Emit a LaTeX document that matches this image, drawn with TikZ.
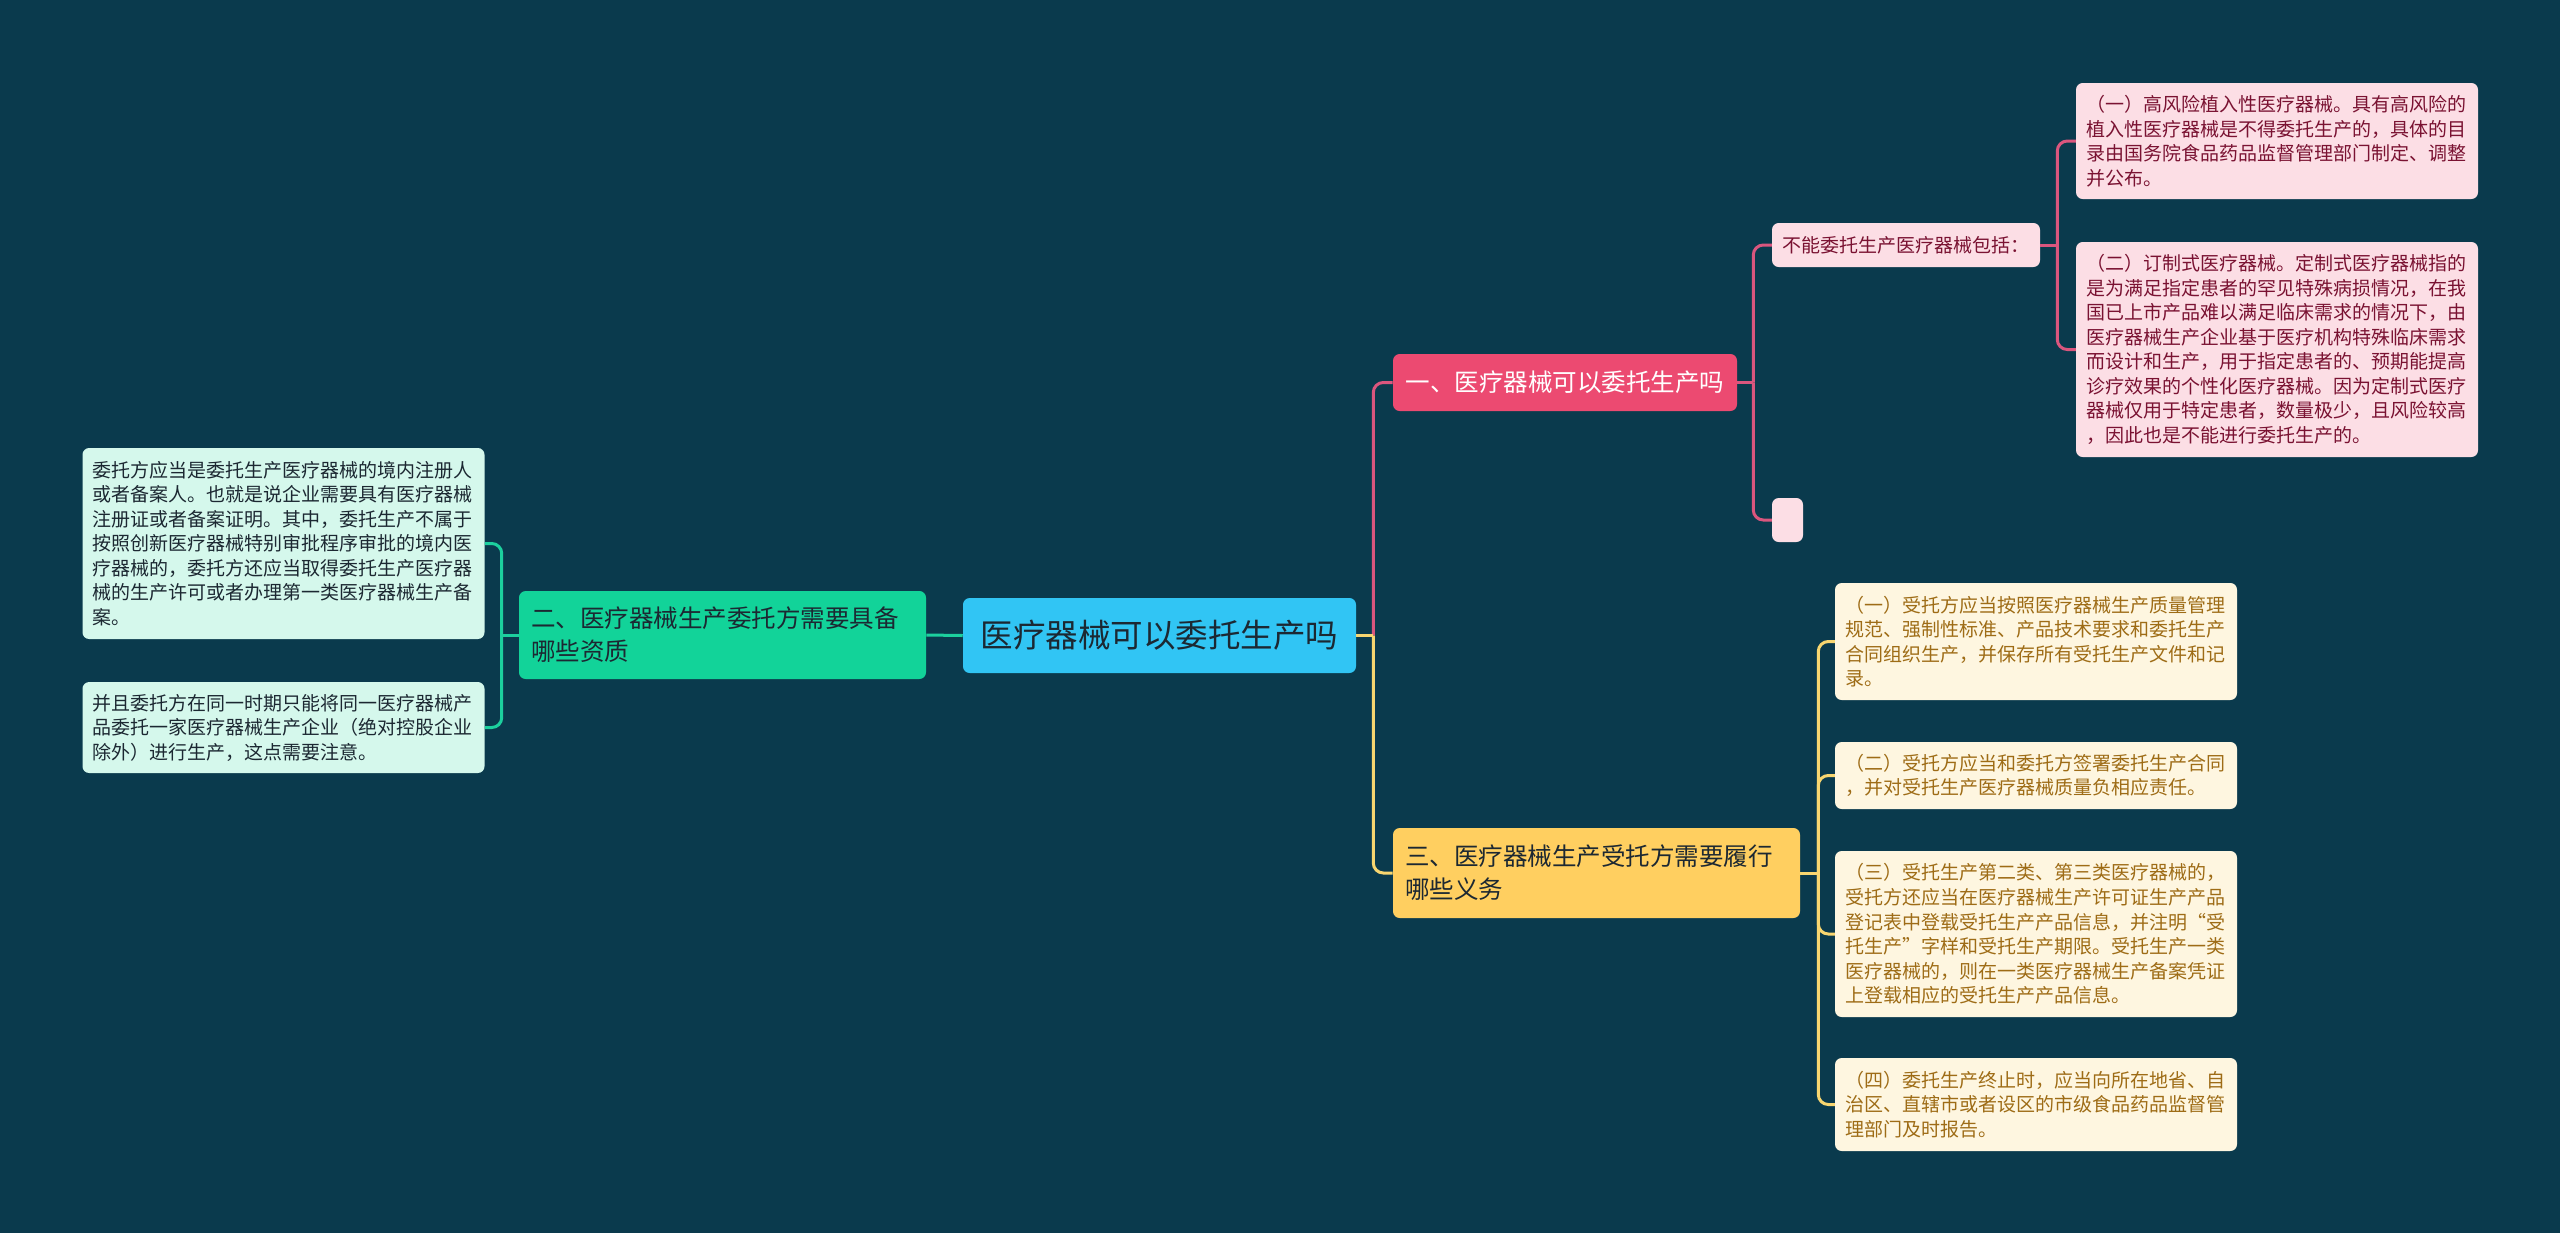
\documentclass[tikz,border=0pt]{standalone}
\usepackage{fontspec}
\newfontfamily\cjk{Noto Sans CJK SC}
\usetikzlibrary{positioning}
\definecolor{bgTeal}{RGB}{10,58,77}
\definecolor{rootBlue}{RGB}{49,197,244}
\definecolor{mintGreen}{RGB}{18,211,153}
\definecolor{mintLight}{RGB}{213,248,236}
\definecolor{roseRed}{RGB}{236,74,113}
\definecolor{roseLight}{RGB}{252,222,229}
\definecolor{roseText}{RGB}{122,18,50}
\definecolor{sunYellow}{RGB}{255,207,96}
\definecolor{sunLight}{RGB}{254,246,224}
\definecolor{sunText}{RGB}{158,108,22}
\definecolor{inkDark}{RGB}{28,40,50}
\definecolor{greenLink}{RGB}{28,208,158}
\definecolor{roseLink}{RGB}{218,86,126}
\definecolor{sunLink}{RGB}{248,214,112}

\begin{document}
\begin{tikzpicture}[x=0.75pt, y=-0.75pt,
		box/.style={rounded corners=5pt, inner ysep=0pt},
		leaf/.style={box, inner xsep=7.5pt, text width=286.5pt, align=left,
			font=\cjk\fontsize{14.25}{18.4}\selectfont},
		branch/.style={box, inner xsep=9pt, text width=287.25pt, align=left,
			font=\cjk\fontsize{18.4}{24.75}\selectfont, text=inkDark},
		link/.style={line width=2.25pt, rounded corners=7.5pt}]
	\fill[bgTeal] (0,0) rectangle (2560,1233);
	\useasboundingbox (0,0) rectangle (2560,1233);

	% centre
	\node[box, fill=rootBlue, minimum width=294.75pt, minimum height=56.25pt, text=inkDark,
		font=\cjk\fontsize{24.4}{30}\selectfont] (root) at (1159.5,635.5) {医疗器械可以委托生产吗};

	% left branch
	\node[branch, fill=mintGreen, minimum height=66pt] (qual) at (722.5,635)
		{二、医疗器械生产委托方需要具备\\哪些资质};
	\node[leaf, fill=mintLight, text=inkDark, minimum height=143.25pt] (qualA) at (283.5,543.5)
		{委托方应当是委托生产医疗器械的境内注册人\\或者备案人。也就是说企业需要具有医疗器械\\注册证或者备案证明。其中，委托生产不属于\\按照创新医疗器械特别审批程序审批的境内医\\疗器械的，委托方还应当取得委托生产医疗器\\械的生产许可或者办理第一类医疗器械生产备\\案。};
	\node[leaf, fill=mintLight, text=inkDark, minimum height=68.25pt] (qualB) at (283.5,727.5)
		{并且委托方在同一时期只能将同一医疗器械产\\品委托一家医疗器械生产企业（绝对控股企业\\除外）进行生产，这点需要注意。};

	% upper right branch
	\node[box, fill=roseRed, text=white, inner xsep=7.5pt, text width=243pt, align=center,
		minimum height=42.75pt, font=\cjk\fontsize{18.4}{24.75}\selectfont] (allow) at (1565,382.5)
		{一、医疗器械可以委托生产吗};
	\node[box, fill=roseLight, text=roseText, inner xsep=7.5pt, text width=186pt, align=left,
		minimum height=33pt, font=\cjk\fontsize{14.25}{18.4}\selectfont] (deny) at (1906,245)
		{不能委托生产医疗器械包括：};
	\node[box, fill=roseLight, minimum width=23.25pt, minimum height=33pt, inner sep=0pt] (blank) at (1787.5,520) {};
	\node[leaf, fill=roseLight, text=roseText, minimum height=87pt] (denyA) at (2277,141)
		{（一）高风险植入性医疗器械。具有高风险的\\植入性医疗器械是不得委托生产的，具体的目\\录由国务院食品药品监督管理部门制定、调整\\并公布。};
	\node[leaf, fill=roseLight, text=roseText, minimum height=161.25pt] (denyB) at (2277,349.5)
		{（二）订制式医疗器械。定制式医疗器械指的\\是为满足指定患者的罕见特殊病损情况，在我\\国已上市产品难以满足临床需求的情况下，由\\医疗器械生产企业基于医疗机构特殊临床需求\\而设计和生产，用于指定患者的、预期能提高\\诊疗效果的个性化医疗器械。因为定制式医疗\\器械仅用于特定患者，数量极少，且风险较高\\，因此也是不能进行委托生产的。};

	% lower right branch
	\node[branch, fill=sunYellow, minimum height=67.5pt] (duty) at (1596.5,873)
		{三、医疗器械生产受托方需要履行\\哪些义务};
	\node[leaf, fill=sunLight, text=sunText, minimum height=87.75pt] (dutyA) at (2036,641.5)
		{（一）受托方应当按照医疗器械生产质量管理\\规范、强制性标准、产品技术要求和委托生产\\合同组织生产，并保存所有受托生产文件和记\\录。};
	\node[leaf, fill=sunLight, text=sunText, minimum height=50.25pt] (dutyB) at (2036,775.5)
		{（二）受托方应当和委托方签署委托生产合同\\，并对受托生产医疗器械质量负相应责任。};
	\node[leaf, fill=sunLight, text=sunText, minimum height=124.5pt] (dutyC) at (2036,934)
		{（三）受托生产第二类、第三类医疗器械的，\\受托方还应当在医疗器械生产许可证生产产品\\登记表中登载受托生产产品信息，并注明“受\\托生产”字样和受托生产期限。受托生产一类\\医疗器械的，则在一类医疗器械生产备案凭证\\上登载相应的受托生产产品信息。};
	\node[leaf, fill=sunLight, text=sunText, minimum height=69.75pt] (dutyD) at (2036,1104.5)
		{（四）委托生产终止时，应当向所在地省、自\\治区、直辖市或者设区的市级食品药品监督管\\理部门及时报告。};

	% links
	\draw[link, greenLink] (root.west) -- (qual.east);
	\draw[link, greenLink] (qual.west) -- ++(-17,0) coordinate (qualJ);
	\draw[link, greenLink] (qualJ) |- (qualA.east);
	\draw[link, greenLink] (qualJ) |- (qualB.east);

	\draw[link, roseLink] (root.east) -- ++(17,0) coordinate (rootJ);
	\draw[link, roseLink] (rootJ) |- (allow.west);
	\draw[link, roseLink] (allow.east) -- ++(16,0) coordinate (allowJ);
	\draw[link, roseLink] (allowJ) |- (deny.west);
	\draw[link, roseLink] (allowJ) |- (blank.west);
	\draw[link, roseLink] (deny.east) -- ++(17,0) coordinate (denyJ);
	\draw[link, roseLink] (denyJ) |- (denyA.west);
	\draw[link, roseLink] (denyJ) |- (denyB.west);

	\draw[link, sunLink] (root.east) -- (rootJ);
	\draw[link, sunLink] (rootJ) |- (duty.west);
	\draw[link, sunLink] (duty.east) -- ++(18,0) coordinate (dutyJ);
	\foreach \n in {dutyA,dutyB,dutyC,dutyD}
		\draw[link, sunLink] (dutyJ) |- (\n.west);
\end{tikzpicture}
\end{document}
